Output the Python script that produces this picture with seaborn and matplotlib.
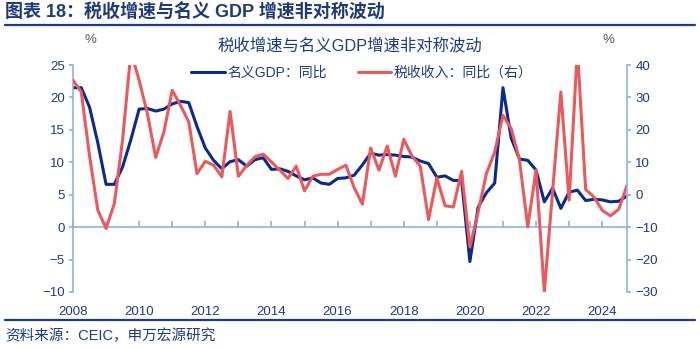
import matplotlib
matplotlib.use("Agg")
import matplotlib.pyplot as plt
import seaborn as sns
import pandas as pd
from matplotlib.lines import Line2D

# ---------------- data (quarterly, 2008Q1 .. 2024Q4) ----------------
years = list(range(2008, 2025))
quarters = [f"{y}Q{q}" for y in years for q in (1, 2, 3, 4)]

gdp_yoy = [21.5, 21.5, 18.5, 13.0, 6.6, 6.6, 9.3, 13.5,
           18.2, 18.3, 17.9, 18.2, 19.0, 19.4, 19.2, 15.5,
           12.2, 10.3, 9.0, 10.1, 10.4, 9.4, 10.4, 10.7,
           8.9, 9.0, 8.6, 7.9, 7.3, 7.6, 6.8, 6.6,
           7.5, 7.6, 8.0, 9.6, 11.4, 11.1, 11.2, 11.1,
           10.9, 10.8, 10.2, 9.8, 7.7, 7.9, 7.2, 7.2,
           -5.3, 3.1, 5.3, 6.8, 21.5, 13.7, 10.5, 10.3,
           8.8, 3.9, 6.0, 2.9, 5.4, 5.7, 4.1, 4.3,
           4.2, 3.9, 4.0, 4.8]

tax_yoy = [35.3, 31.7, 12.0, -4.8, -10.4, -2.7, 17.0, 44.0,
           35.3, 25.0, 11.5, 19.4, 32.2, 27.6, 22.4, 6.5,
           10.3, 9.1, 5.5, 25.7, 5.7, 9.0, 11.7, 12.5,
           10.1, 7.6, 5.0, 8.8, 1.2, 5.7, 6.3, 6.3,
           7.8, 9.1, 2.2, -2.9, 14.4, 7.6, 15.0, 5.7,
           17.1, 11.9, 8.8, -7.7, 5.2, -3.4, -3.8, 7.2,
           -16.1, -5.3, 6.5, 13.2, 24.5, 20.4, 10.6, -9.9,
           7.6, -30.0, 1.0, 31.7, -1.7, 45.0, 1.6, -0.7,
           -4.8, -6.5, -4.5, 2.9]

left_ticks = [-10, -5, 0, 5, 10, 15, 20, 25]
right_ticks = [-30, -20, -10, 0, 10, 20, 30, 40]
year_labels = [str(y) for y in range(2008, 2025, 2)]

label_gdp = "名义GDP：同比"
label_tax = "税收收入：同比（右）"
title_main = "图表 18：税收增速与名义 GDP 增速非对称波动"
title_inner = "税收增速与名义GDP增速非对称波动"
source = "资料来源：CEIC，申万宏源研究"

# ---------------- styling ----------------
BLUE = "#0A2A8C"
RED = "#EA5A5D"
AXC = "#8DB3E2"
TXT = "#1F3A8A"
GRAY = "#595959"

sns.set_theme(style="white")
plt.rcParams["font.family"] = ["Liberation Sans", "Noto Sans CJK SC", "DejaVu Sans"]

df = pd.DataFrame({
    "quarter": quarters,
    "x": [int(q[:4]) + (int(q[-1]) - 1) / 4 for q in quarters],
    "gdp": gdp_yoy,
    "tax": tax_yoy,
})

W, H = 700, 348
fig = plt.figure(figsize=(W / 100, H / 100), dpi=100)
ax = fig.add_axes([73 / W, 1 - 292 / H, 554 / W, 227 / H])

sns.lineplot(data=df, x="x", y="gdp", ax=ax, color=BLUE, linewidth=2.2, legend=False)
ax2 = ax.twinx()
sns.lineplot(data=df, x="x", y="tax", ax=ax2, color=RED, linewidth=2.2, legend=False)

ax.set_xlim(2008, 2024.75)
ax.set_ylim(-10, 25)
ax2.set_ylim(-30, 40)
ax.set_yticks(left_ticks)
ax2.set_yticks(right_ticks)
ax.set_xticks(range(2008, 2025, 2))
ax.set_xticklabels(year_labels)
ax.set_xlabel("")
ax.set_ylabel("")
ax2.set_ylabel("")

for a in (ax, ax2):
    for s in a.spines.values():
        s.set_visible(False)
    a.grid(False)
ax.spines["left"].set_visible(True)
ax.spines["left"].set_color(AXC)
ax.spines["left"].set_linewidth(1.2)
ax2.spines["right"].set_visible(True)
ax2.spines["right"].set_color(AXC)
ax2.spines["right"].set_linewidth(1.2)

ax.tick_params(axis="x", length=0, pad=10, labelsize=9.5, labelcolor=TXT)
ax.tick_params(axis="y", direction="out", length=3, color=AXC, labelsize=9.5,
               labelcolor=TXT, pad=3)
ax2.tick_params(axis="y", direction="out", length=3, color=AXC, labelsize=9.5,
                labelcolor=TXT, pad=3)

# zero line with yearly ticks
sec = ax.secondary_xaxis(10 / 35)
sec.set_xticks(range(2008, 2026))
sec.tick_params(axis="x", direction="in", length=4, color=AXC, labelbottom=False)
for k, s in sec.spines.items():
    s.set_visible(k == "bottom")
sec.spines["bottom"].set_color(AXC)
sec.spines["bottom"].set_linewidth(1.2)

# legend
handles = [Line2D([], [], color=BLUE, lw=2.2), Line2D([], [], color=RED, lw=2.2)]
leg = fig.legend(handles, [label_gdp, label_tax], loc="center",
                 bbox_to_anchor=(362 / W, 1 - 73 / H), ncol=2, frameon=False,
                 fontsize=10, handlelength=2.4, handletextpad=0.2,
                 columnspacing=2.2)
for t in leg.get_texts():
    t.set_color(TXT)

# titles and notes
fig.text(5 / W, 1 - 13 / H, title_main, fontsize=13, fontweight="bold",
         color="#1F3A7A", ha="left", va="center")
fig.add_artist(Line2D([5 / W, 695 / W], [1 - 24.5 / H, 1 - 24.5 / H],
                      color="#1F3A8A", lw=1.6))
fig.text(350 / W, 1 - 45 / H, title_inner, fontsize=11.8, color=TXT,
         ha="center", va="center")
fig.text(90 / W, 1 - 40 / H, "%", fontsize=9.5, color=GRAY, ha="center", va="center")
fig.text(608 / W, 1 - 40 / H, "%", fontsize=9.5, color=GRAY, ha="center", va="center")
fig.add_artist(Line2D([5 / W, 695 / W], [1 - 319.5 / H, 1 - 319.5 / H],
                      color="#1F3A8A", lw=1.6))
fig.text(5 / W, 1 - 335.5 / H, source, fontsize=10.5, color=TXT,
         ha="left", va="center")

fig.savefig("out.png", dpi=100)
